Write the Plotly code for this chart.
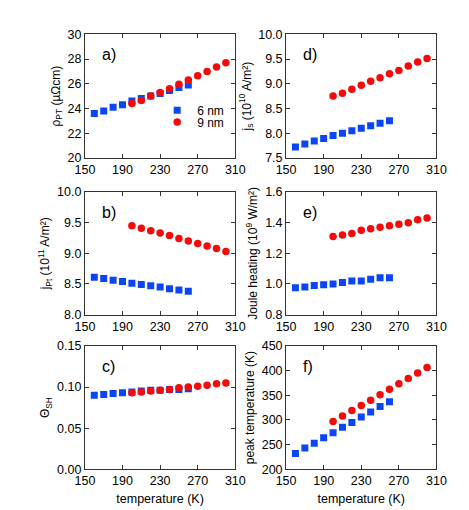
import plotly.graph_objects as go
from plotly.subplots import make_subplots

# temperatures (K)
temp_6nm = [160, 170, 180, 190, 200, 210, 220, 230, 240, 250, 260]
temp_9nm = [200, 210, 220, 230, 240, 250, 260, 270, 280, 290, 300]

# a) resistivity (uOhm cm)
rho_6nm = [23.6, 23.8, 24.1, 24.3, 24.6, 24.8, 25.0, 25.2, 25.45, 25.7, 25.9]
rho_9nm = [24.4, 24.65, 25.0, 25.3, 25.6, 25.95, 26.3, 26.65, 27.0, 27.35, 27.7]

# b) current density in Pt (1e11 A/m2)
jpt_6nm = [8.61, 8.59, 8.56, 8.54, 8.51, 8.49, 8.47, 8.45, 8.42, 8.40, 8.38]
jpt_9nm = [9.45, 9.41, 9.37, 9.33, 9.29, 9.24, 9.20, 9.16, 9.12, 9.08, 9.03]

# c) spin Hall angle
theta_6nm = [0.090, 0.091, 0.092, 0.093, 0.094, 0.095, 0.096, 0.096, 0.097, 0.097, 0.098]
theta_9nm = [0.093, 0.094, 0.095, 0.096, 0.097, 0.099, 0.100, 0.101, 0.102, 0.104, 0.105]

# d) spin current density (1e10 A/m2)
js_6nm = [7.72, 7.78, 7.84, 7.89, 7.95, 8.00, 8.05, 8.10, 8.15, 8.20, 8.25]
js_9nm = [8.75, 8.81, 8.89, 8.97, 9.05, 9.12, 9.20, 9.27, 9.36, 9.44, 9.51]

# e) Joule heating (1e9 W/m2)
joule_6nm = [0.975, 0.98, 0.99, 0.995, 1.0, 1.01, 1.02, 1.02, 1.03, 1.04, 1.04]
joule_9nm = [1.31, 1.32, 1.33, 1.35, 1.36, 1.37, 1.38, 1.39, 1.40, 1.42, 1.43]

# f) peak temperature (K)
peak_6nm = [232, 243, 253, 264, 274, 285, 295, 306, 316, 327, 337]
peak_9nm = [297, 308, 319, 329, 340, 351, 362, 373, 384, 395, 406]

x_ticks = [150, 190, 230, 270, 310]

BLUE = "#0a46f5"
RED = "#f50a0a"
FONT = "Liberation Sans, Arial, sans-serif"

fig = make_subplots(rows=3, cols=2)

# (row, col, label, y6, y9, yrange, ytick step, ytitle, tickformat)
panels = [
    (1, 1, "a)", rho_6nm, rho_9nm, [20, 30], 2, "ρ<sub>PT</sub> (µΩcm)", "d"),
    (2, 1, "b)", jpt_6nm, jpt_9nm, [8.0, 10.0], 0.5, "j<sub>Pt</sub> (10<sup>11</sup> A/m²)", ".1f"),
    (3, 1, "c)", theta_6nm, theta_9nm, [0.0, 0.15], 0.05, "Θ<sub>SH</sub>", ".2f"),
    (1, 2, "d)", js_6nm, js_9nm, [7.5, 10.0], 0.5, "j<sub>s</sub> (10<sup>10</sup> A/m²)", ".1f"),
    (2, 2, "e)", joule_6nm, joule_9nm, [0.8, 1.6], 0.2, "Joule heating (10<sup>9</sup> W/m²)", ".1f"),
    (3, 2, "f)", peak_6nm, peak_9nm, [200, 450], 50, "peak temperature (K)", "d"),
]

x_dom = {1: [0.149, 0.484], 2: [0.597, 0.932]}
y_dom = {1: [0.712, 0.961], 2: [0.396, 0.643], 3: [0.084, 0.333]}

for i, (r, c, label, y6, y9, yr, dt, ytitle, fmt) in enumerate(panels):
    first = i == 0
    fig.add_trace(go.Scatter(
        x=temp_6nm, y=y6, mode="markers", name="6 nm", showlegend=first,
        legend="legend",
        marker=dict(symbol="square", size=7, color=BLUE),
    ), row=r, col=c)
    fig.add_trace(go.Scatter(
        x=temp_9nm, y=y9, mode="markers", name="9 nm", showlegend=first,
        legend="legend2",
        marker=dict(symbol="circle", size=7.5, color=RED),
    ), row=r, col=c)
    fig.update_xaxes(
        domain=x_dom[c], range=[150, 310], tickvals=x_ticks,
        title_text="temperature (K)" if r == 3 else None,
        title_font=dict(size=12.5), title_standoff=6,
        row=r, col=c,
    )
    fig.update_yaxes(
        domain=y_dom[r], range=yr, dtick=dt, tick0=yr[0], tickformat=fmt,
        title_text=ytitle, title_font=dict(size=12), title_standoff=4,
        row=r, col=c,
    )
    idx = "" if i == 0 else str(fig.data[-1].xaxis[1:])
    fig.add_annotation(
        text=label, xref=f"x{idx} domain", yref=f"y{idx} domain",
        x=0.10, y=0.835, xanchor="left", yanchor="middle",
        showarrow=False, font=dict(size=16, color="black", family=FONT),
    )

axis_style = dict(
    showgrid=False, zeroline=False, showline=True, linecolor="#333",
    linewidth=1, mirror="ticks", ticks="inside", ticklen=4, tickcolor="#333",
    tickfont=dict(size=12.5),
)
fig.update_xaxes(**axis_style)
fig.update_yaxes(**axis_style)

legend_style = dict(
    xanchor="left", yanchor="middle", bgcolor="rgba(0,0,0,0)",
    font=dict(size=12), itemwidth=30,
)
fig.update_layout(
    width=469, height=510,
    margin=dict(l=0, r=0, t=0, b=0),
    paper_bgcolor="white", plot_bgcolor="white",
    font=dict(family=FONT, size=12, color="black"),
    legend=dict(x=0.31, y=1 - 98 / 510, **legend_style),
    legend2=dict(x=0.31, y=1 - 110 / 510, **legend_style),
)

fig.write_html("out.html")
